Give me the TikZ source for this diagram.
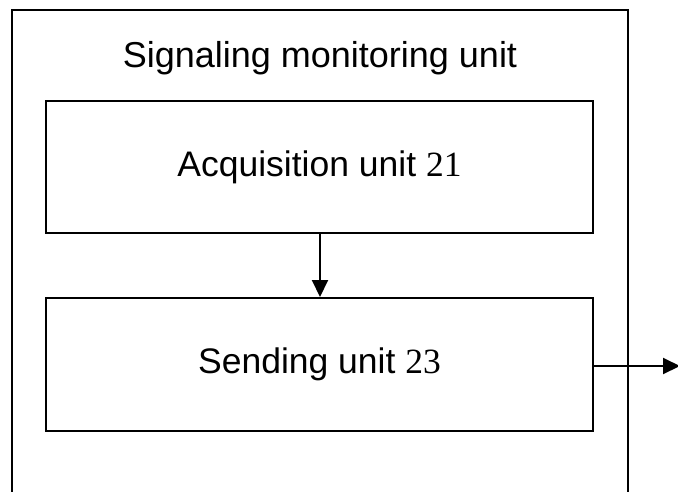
\documentclass[tikz,border=0pt]{standalone}
\usepackage{fontspec}
\setmainfont{Liberation Sans}
\newfontfamily\numfont{Liberation Serif}
\usetikzlibrary{arrows.meta}
\begin{document}
\begin{tikzpicture}[x=1pt,y=-1pt,
  unitbox/.style={draw,line width=2pt,minimum width=547pt,minimum height=132pt,inner sep=0pt,
    font=\fontsize{35.5}{42}\selectfont},
  conn/.style={line width=2pt,-{Triangle[length=17pt,width=16pt]}}]
\useasboundingbox (0,0) rectangle (678,491);
\clip (0,0) rectangle (678,491);
\draw[line width=2pt] (12,500) -- (12,10) -- (628,10) -- (628,500);
\node[font=\fontsize{36}{42}\selectfont,anchor=base,inner sep=0pt] (title) at (320,67) {Signaling monitoring unit};
\node[unitbox] (acq) at (319.5,167) {Acquisition unit {\numfont 21}};
\node[unitbox,minimum height=133pt] (send) at (319.5,364.5) {Sending unit {\numfont 23}};
\coordinate (out) at (680,366);
\draw[conn] (acq.south -| 320,0) -- (send.north -| 320,0);
\draw[conn] (send.east |- out) -- (out);
\end{tikzpicture}
\end{document}
